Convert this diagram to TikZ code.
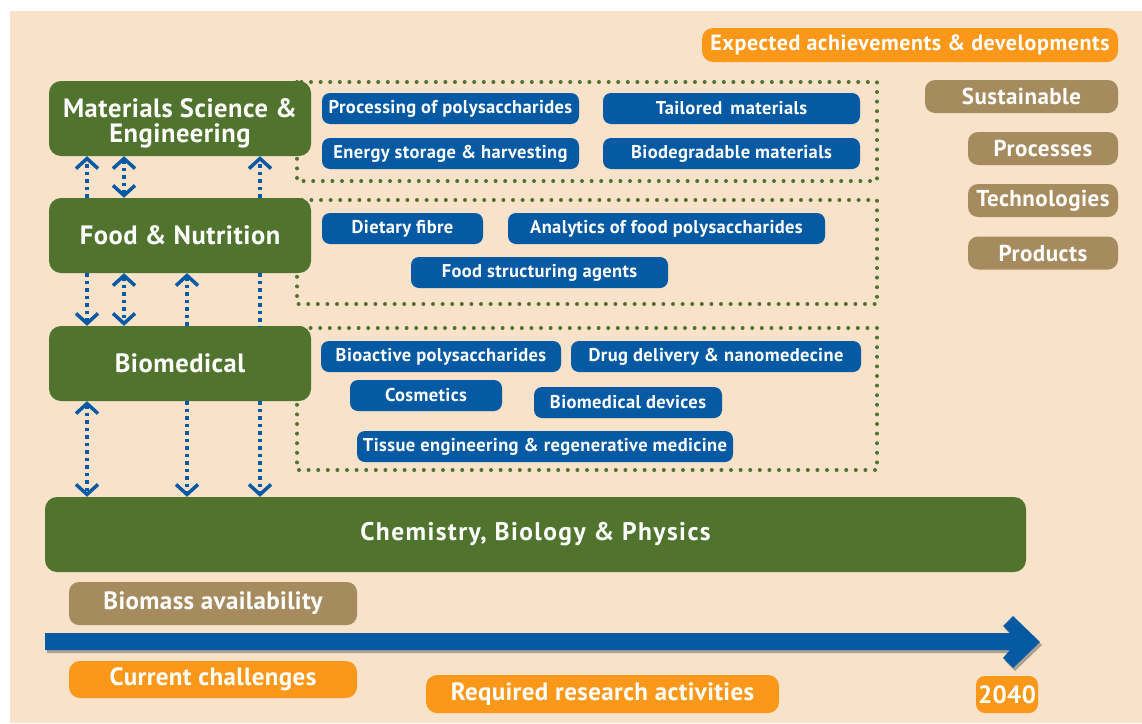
\documentclass[tikz,border=0pt]{standalone}
\usepackage{fontspec}
\setmainfont{PT Sans}
\usepackage{tikz}
\usetikzlibrary{arrows.meta}

\definecolor{peach}{RGB}{248,226,201}
\definecolor{leaf}{RGB}{80,116,46}
\definecolor{sea}{RGB}{5,90,163}
\definecolor{clay}{RGB}{166,139,94}
\definecolor{amber}{RGB}{251,152,26}

\tikzset{
  greenbox/.style={fill=leaf, rounded corners=12pt, text=white, align=center, inner sep=0pt,
    font=\bfseries\addfontfeature{LetterSpace=2}\fontsize{26.5}{26.5}\selectfont},
  bluebox/.style={fill=sea, rounded corners=8pt, text=white, inner sep=0pt, minimum height=31pt,
    font=\bfseries\addfontfeature{LetterSpace=2}\fontsize{18.5}{18.5}\selectfont},
  claybox/.style={fill=clay, rounded corners=10pt, text=white, inner sep=0pt, minimum height=33pt,
    font=\bfseries\addfontfeature{LetterSpace=2}\fontsize{23}{23}\selectfont},
  amberbox/.style={fill=amber, rounded corners=11pt, text=white, inner sep=0pt,
    font=\bfseries\addfontfeature{LetterSpace=2.5}\fontsize{22}{22}\selectfont},
  lowtext/.style={font=\bfseries\addfontfeature{LetterSpace=1.5}\fontsize{25}{25}\selectfont},
  dotlink/.style={sea, line width=3.5pt, dash pattern=on 3.5pt off 4pt},
  dotframe/.style={leaf, line width=4pt, line cap=round, dash pattern=on 0pt off 9.6pt},
  >={Straight Barb[length=10pt,width=22pt]}
}

\begin{document}
\begin{tikzpicture}[x=1pt,y=-1pt]
\useasboundingbox (0,0) rectangle (1142,723);
\fill [white] (0,0) rectangle (1142,723);
\fill [peach] (10,11) rectangle (1142,723);

% dotted frames behind the green boxes
\draw [dotframe] (297,82) rectangle (877,181);
\draw [dotframe] (297,200) rectangle (877,304);
\draw [dotframe] (297,328) rectangle (877,470);

% fields
\node [greenbox, minimum width=262pt, minimum height=75pt] (mse) at (180,118.5) {\rule{0pt}{29pt}Materials Science \&\\[-1pt]Engineering};
\node [greenbox, minimum width=262pt, minimum height=75pt] (food) at (180,235.5) {Food \& Nutrition};
\node [greenbox, minimum width=262pt, minimum height=75pt] (bio) at (180,363.5) {Biomedical};
\node [greenbox, minimum width=981pt, minimum height=75pt, font=\bfseries\addfontfeature{LetterSpace=5.5}\fontsize{25.5}{25.5}\selectfont] (chem) at (535.5,534.5) {Chemistry, Biology \& Physics};

% topics
\node [bluebox, minimum width=257pt] (proc) at (450.5,108.5) {Processing of polysaccharides};
\node [bluebox, minimum width=257pt] (tail) at (731.5,108.5) {Tailored\, materials};
\node [bluebox, minimum width=257pt] (ener) at (450.5,153.5) {Energy storage \& harvesting};
\node [bluebox, minimum width=257pt] (biod) at (731.5,153.5) {Biodegradable materials};
\node [bluebox, minimum width=161pt] (diet) at (402.5,228.5) {Dietary fibre};
\node [bluebox, minimum width=317pt] (anal) at (666.5,228.5) {Analytics of food polysaccharides};
\node [bluebox, minimum width=257pt] (fsa) at (539.5,272.5) {Food structuring agents};
\node [bluebox, minimum width=240pt] (bioa) at (441,356.5) {Bioactive polysaccharides};
\node [bluebox, minimum width=290pt] (drug) at (716,356.5) {\raisebox{2pt}{Drug delivery \& nanomedecine}};
\node [bluebox, minimum width=152pt] (cosm) at (426,395.5) {Cosmetics};
\node [bluebox, minimum width=188pt] (bdev) at (628,402.5) {Biomedical devices};
\node [bluebox, minimum width=376pt] (tiss) at (545,446.5) {Tissue engineering \& regenerative medicine};

% goals
\node [amberbox, minimum width=416pt, minimum height=34pt] (expe) at (910,45) {Expected achievements \& developments};
\node [claybox, minimum width=193pt] (sust) at (1021.5,96.5) {Sustainable};
\node [claybox, minimum width=150pt] (prcs) at (1043,148.5) {Processes};
\node [claybox, minimum width=150pt] (tech) at (1043,200.5) {Technologies};
\node [claybox, minimum width=150pt] (prod) at (1043,253) {Products};

% links between fields
\coordinate (colA) at (87,0);
\coordinate (colB) at (124,0);
\coordinate (colC) at (187,0);
\coordinate (colD) at (260,0);
\draw [dotlink, ->] (food.north -| colA) -- (mse.south -| colA);
\draw [dotlink, <->] (food.north -| colB) -- (mse.south -| colB);
\draw [dotlink, ->] (food.north -| colD) -- (mse.south -| colD);
\draw [dotlink, ->] (food.south -| colA) -- (bio.north -| colA);
\draw [dotlink, <->] (food.south -| colB) -- (bio.north -| colB);
\draw [dotlink, ->] (bio.north -| colC) -- (food.south -| colC);
\draw [dotlink] (food.south -| colD) -- (bio.north -| colD);
\draw [dotlink, <->] (bio.south -| colA) -- (chem.north -| colA);
\draw [dotlink, ->] (bio.south -| colC) -- (chem.north -| colC);
\draw [dotlink, ->] (bio.south -| colD) -- (chem.north -| colD);

% time line
\fill [black!55, opacity=0.6] (47,636) -- (1012,636) -- (1005,629) -- (1015,619) -- (1042,645) -- (1015,671) -- (1005,661) -- (1012,653) -- (47,653) -- cycle;
\fill [sea] (45,633) -- (1010,633) -- (1003,626) -- (1013,616) -- (1040,642) -- (1013,668) -- (1003,658) -- (1010,650) -- (45,650) -- cycle;

\node [claybox, lowtext, minimum width=288pt, minimum height=43pt] (biom) at (213,603.5) {Biomass availability};
\node [amberbox, lowtext, minimum width=288pt, minimum height=37pt] (curr) at (213,679.5) {Current challenges};
\node [amberbox, lowtext, minimum width=353pt, minimum height=38pt] (reqd) at (602.5,694) {Required research activities};
\node [amberbox, lowtext, minimum width=62pt, minimum height=37pt, rounded corners=9pt] (year) at (1007,694.5) {2040};
\end{tikzpicture}
\end{document}
